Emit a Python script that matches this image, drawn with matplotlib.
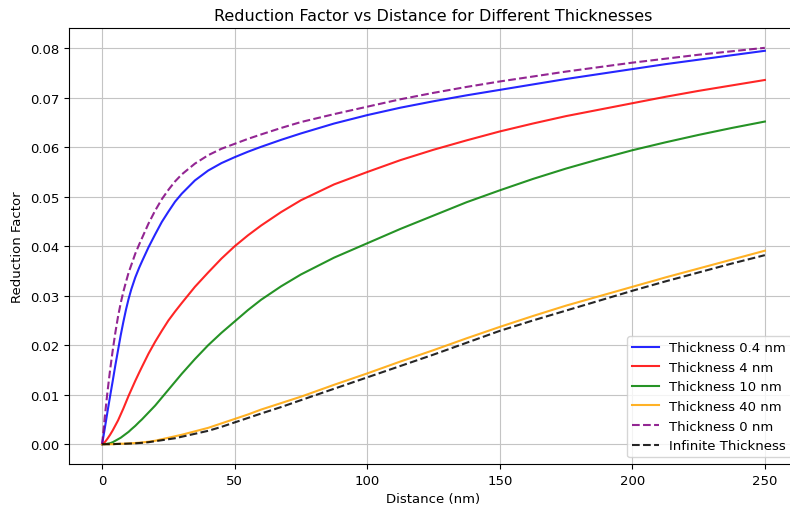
"""Reduction factor vs distance for several film thicknesses."""

import matplotlib

matplotlib.use("Agg")
import matplotlib.pyplot as plt

# distance in nm
distance = [0, 1, 2, 3, 4, 5, 6, 7, 8, 9, 10, 11, 12.5, 14, 15, 17.5, 20,
            22.5, 25, 27.5, 30, 35, 40, 45, 50, 55, 60, 67.5, 75, 87.5, 100,
            112.5, 125, 137.5, 150, 162.5, 175, 187.5, 200, 212.5, 225,
            237.5, 250]

rf_0p4 = [0, 0.0032, 0.0065, 0.0097, 0.0128, 0.0160, 0.0190, 0.0220, 0.0247,
          0.0272, 0.0294, 0.0313, 0.0337, 0.0357, 0.0369, 0.0398, 0.0424,
          0.0449, 0.0470, 0.0490, 0.0506, 0.0533, 0.0553, 0.0568, 0.0580,
          0.0591, 0.0601, 0.0615, 0.0628, 0.0648, 0.0665, 0.0680, 0.0693,
          0.0705, 0.0716, 0.0727, 0.0738, 0.0748, 0.0758, 0.0768, 0.0777,
          0.0786, 0.0795]
rf_4 = [0, 0.0004, 0.0011, 0.0019, 0.0028, 0.0038, 0.0048, 0.0060, 0.0072,
        0.0085, 0.0098, 0.0110, 0.0128, 0.0145, 0.0156, 0.0183, 0.0207,
        0.0229, 0.0250, 0.0268, 0.0285, 0.0318, 0.0347, 0.0375, 0.0400,
        0.0422, 0.0442, 0.0469, 0.0493, 0.0525, 0.0550, 0.0574, 0.0595,
        0.0614, 0.0632, 0.0648, 0.0663, 0.0676, 0.0689, 0.0702, 0.0714,
        0.0725, 0.0736]
rf_10 = [0, 0.0000, 0.0001, 0.0002, 0.0004, 0.0007, 0.0010, 0.0013, 0.0017,
         0.0021, 0.0025, 0.0030, 0.0037, 0.0045, 0.0050, 0.0064, 0.0078,
         0.0094, 0.0110, 0.0126, 0.0142, 0.0172, 0.0200, 0.0225, 0.0248,
         0.0271, 0.0292, 0.0319, 0.0343, 0.0377, 0.0406, 0.0435, 0.0462,
         0.0489, 0.0513, 0.0536, 0.0557, 0.0576, 0.0594, 0.0610, 0.0625,
         0.0639, 0.0652]
rf_40 = [0, 0.0000, 0.0000, 0.0000, 0.0000, 0.00005, 0.00007, 0.0001, 0.0001,
         0.00012, 0.00015, 0.00018, 0.00024, 0.0003, 0.00035, 0.0005, 0.0007,
         0.0010, 0.0013, 0.0016, 0.0019, 0.0026, 0.0033, 0.0042, 0.0051,
         0.0060, 0.0070, 0.0083, 0.0096, 0.0120, 0.0143, 0.0167, 0.0190,
         0.0214, 0.0237, 0.0259, 0.0280, 0.0299, 0.0318, 0.0337, 0.0355,
         0.0373, 0.0391]
rf_0 = [0, 0.0055, 0.0105, 0.0150, 0.0190, 0.0226, 0.0258, 0.0285, 0.0308,
        0.0328, 0.0347, 0.0362, 0.0385, 0.0404, 0.0416, 0.0446, 0.0472,
        0.0495, 0.0514, 0.0531, 0.0545, 0.0567, 0.0584, 0.0597, 0.0607,
        0.0617, 0.0626, 0.0639, 0.0651, 0.0667, 0.0682, 0.0697, 0.0710,
        0.0722, 0.0733, 0.0743, 0.0753, 0.0762, 0.0771, 0.0779, 0.0787,
        0.0794, 0.0801]
rf_inf = [0, 0.0000, 0.0000, 0.0000, 0.0000, 0.00003, 0.00005, 0.00007,
          0.00008, 0.0001, 0.00012, 0.00014, 0.00018, 0.00023, 0.00027,
          0.0004, 0.0006, 0.0008, 0.0010, 0.0012, 0.0015, 0.0021, 0.0027,
          0.0035, 0.0044, 0.0053, 0.0062, 0.0075, 0.0089, 0.0112, 0.0135,
          0.0158, 0.0181, 0.0205, 0.0229, 0.0250, 0.0270, 0.0290, 0.0310,
          0.0329, 0.0347, 0.0365, 0.0382]

plt.rcParams.update({
    "xtick.labelsize": 9.5,
    "ytick.labelsize": 9.5,
    "axes.labelsize": 9.5,
    "legend.fontsize": 9.5,
    "axes.titlesize": 11.5,
    "grid.color": "#c4c4c4",
})

fig = plt.figure(figsize=(7.9, 5.1), dpi=100)
ax = fig.add_axes([69 / 790, 45 / 510, 729 / 790, 436 / 510])

alpha = 0.85
ax.plot(distance, rf_0p4, color="blue", alpha=alpha, label="Thickness 0.4 nm")
ax.plot(distance, rf_4, color="red", alpha=alpha, label="Thickness 4 nm")
ax.plot(distance, rf_10, color="green", alpha=alpha, label="Thickness 10 nm")
ax.plot(distance, rf_40, color="orange", alpha=alpha, label="Thickness 40 nm")
ax.plot(distance, rf_0, color="purple", linestyle="--", alpha=alpha,
        label="Thickness 0 nm")
ax.plot(distance, rf_inf, color="black", linestyle="--", alpha=alpha,
        label="Infinite Thickness")

ax.set_title("Reduction Factor vs Distance for Different Thicknesses")
ax.set_xlabel("Distance (nm)")
ax.set_ylabel("Reduction Factor")
ax.grid(True)
ax.legend(loc="lower right")

fig.savefig("out.png", dpi=100)
